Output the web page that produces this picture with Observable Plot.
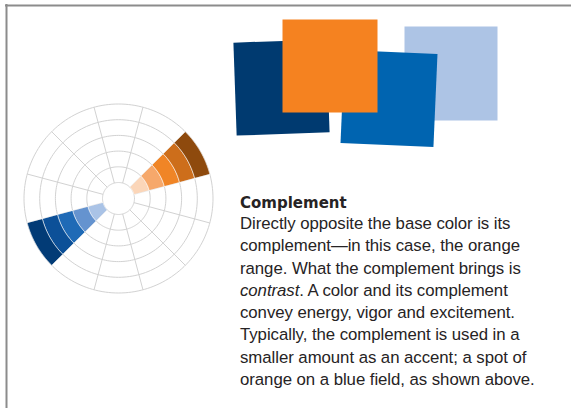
<!DOCTYPE html>
<html><head><meta charset="utf-8">
<script src="https://cdn.jsdelivr.net/npm/d3@7"></script>
<script src="https://cdn.jsdelivr.net/npm/@observablehq/plot@0.6"></script>
<style>
html,body{margin:0;padding:0;background:#fff;}
#wrap{position:relative;width:571px;height:408px;overflow:hidden;}
#wrap svg{position:absolute;left:0;top:0;}
.txt{position:absolute;left:240px;color:#262324;white-space:nowrap;margin:0;}
#title{top:192px;font:bold 15px/22.3px "DejaVu Sans";}
#body{top:213px;font:16.8px/22.3px "Liberation Sans";letter-spacing:-0.05px;}
</style></head><body>
<div id="wrap"></div>
<script>
// ---- data ----
const ringLevels = [0, 1, 2, 3, 4, 5];
const sectorCount = 12;
const orangeShades = ["#fbd6b9", "#f6a86b", "#f08526", "#cd6e1b", "#8e4a0d"];
const blueShades = ["#aac3e6", "#6593cf", "#1f6ab6", "#0c5098", "#023b76"];
const wedgeHues = ["orange", "blue"];
const wedgeSectors = [1, 7];
const swatchNames = ["navy", "light blue", "blue", "orange"];
const swatchColors = ["#003a70", "#adc4e5", "#0064b0", "#f58220"];
const titleText = "Complement";
const bodyLines = [
  "Directly opposite the base color is its",
  "complement\u2014in this case, the orange",
  "range. What the complement brings is",
  "<i>contrast</i>. A color and its complement",
  "convey energy, vigor and excitement.",
  "Typically, the complement is used in a",
  "smaller amount as an accent; a spot of",
  "orange on a blue field, as shown above."
];

// ---- layout ----
const wheel = {cx: 118, cy: 198, r0: 16, r1: 94.5};
const swatchLayout = [
  {cx: 281, cy: 87, w: 93, h: 93, rotate: -2},
  {cx: 450.5, cy: 73, w: 93, h: 94, rotate: 0},
  {cx: 388.5, cy: 98, w: 93, h: 93, rotate: 2.5},
  {cx: 329.5, cy: 65.5, w: 95, h: 93, rotate: 0}
];

const radius = d3.scaleLinear([0, ringLevels.length - 1], [wheel.r0, wheel.r1]);
const step = 360 / sectorCount;
const rad = d => d * Math.PI / 180;
const px = (r, a) => ({x: wheel.cx + r * Math.cos(rad(a)), y: wheel.cy - r * Math.sin(rad(a))});

// rings
const ringPts = [];
for (const lv of ringLevels) {
  for (let i = 0; i < 180; i++) ringPts.push({ring: lv, ...px(radius(lv), i * 2)});
}
// spokes
const spokes = d3.range(sectorCount).map(k => {
  const a = step / 2 + k * step;
  const p0 = px(radius(0), a), p1 = px(radius(ringLevels.length - 1), a);
  return {x1: p0.x, y1: p0.y, x2: p1.x, y2: p1.y};
});
// wedges
const shades = {orange: orangeShades, blue: blueShades};
const wedgePts = [];
wedgeHues.forEach((hue, hi) => {
  const s = wedgeSectors[hi];
  const a0 = s * step - step / 2, a1 = s * step + step / 2;
  shades[hue].forEach((color, i) => {
    const id = hue + i;
    const rIn = radius(i), rOut = radius(i + 1);
    const n = 16;
    for (let j = 0; j <= n; j++) wedgePts.push({id, color, ...px(rOut, a0 + (a1 - a0) * j / n)});
    for (let j = n; j >= 0; j--) wedgePts.push({id, color, ...px(rIn, a0 + (a1 - a0) * j / n)});
  });
});
// swatches
const swatchPts = [];
swatchNames.forEach((name, i) => {
  const L = swatchLayout[i];
  const a = rad(L.rotate), c = Math.cos(a), s = Math.sin(a);
  [[-1, -1], [1, -1], [1, 1], [-1, 1]].forEach(([sx, sy]) => {
    const dx = sx * L.w / 2, dy = sy * L.h / 2;
    swatchPts.push({name, color: swatchColors[i], x: L.cx + dx * c - dy * s, y: L.cy + dx * s + dy * c});
  });
});

const chart = Plot.plot({
  width: 571,
  height: 408,
  margin: 0,
  x: {domain: [0, 571], range: [0, 571], axis: null},
  y: {domain: [0, 408], range: [0, 408], axis: null},
  color: {type: "identity"},
  style: {background: "transparent"},
  marks: [
    Plot.ruleY([5], {x1: 5, x2: 571, stroke: "#8c8c8c", strokeWidth: 2}),
    Plot.ruleX([6], {y1: 4, y2: 408, stroke: "#8c8c8c", strokeWidth: 2}),
    Plot.line(ringPts, {x: "x", y: "y", z: "ring", stroke: "#d2d2d2", strokeWidth: 1, curve: "linear-closed"}),
    Plot.link(spokes, {x1: "x1", y1: "y1", x2: "x2", y2: "y2", stroke: "#d2d2d2", strokeWidth: 1}),
    Plot.line(wedgePts, {x: "x", y: "y", z: "id", fill: "color", stroke: "#ffffff", strokeWidth: 0.7, strokeOpacity: 0.8, curve: "linear-closed"}),
    Plot.line(swatchPts, {x: "x", y: "y", z: "name", fill: "color", stroke: "none", curve: "linear-closed"})
  ]
});

const wrap = document.getElementById("wrap");
wrap.appendChild(chart);
const t = document.createElement("div");
t.id = "title"; t.className = "txt"; t.textContent = titleText;
wrap.appendChild(t);
const b = document.createElement("div");
b.id = "body"; b.className = "txt"; b.innerHTML = bodyLines.join("<br>");
wrap.appendChild(b);
</script>
</body></html>
